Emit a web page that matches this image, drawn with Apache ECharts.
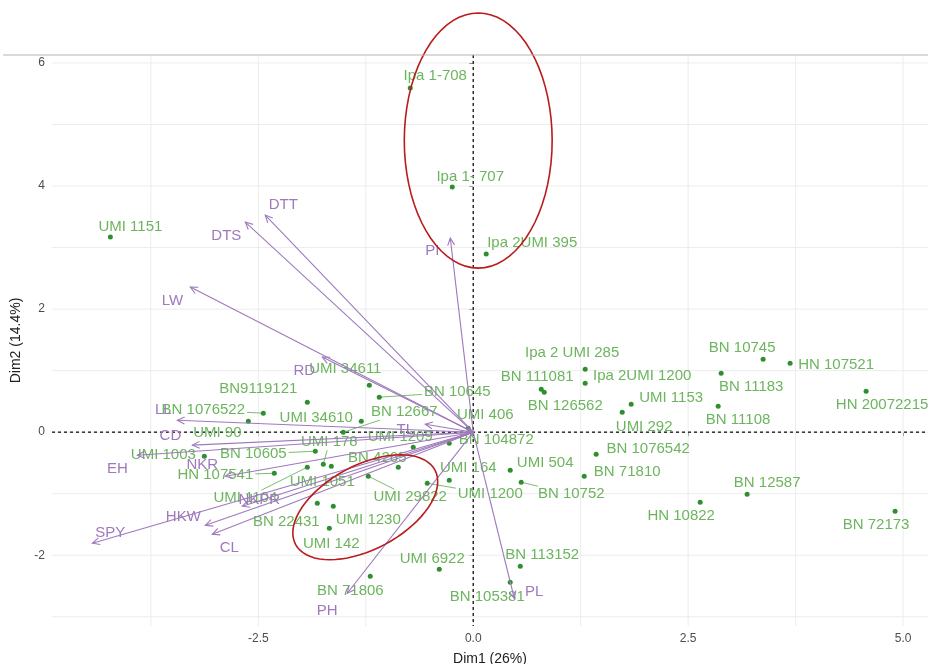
<!DOCTYPE html>
<html>
<head>
<meta charset="utf-8">
<script src="https://cdn.jsdelivr.net/npm/echarts@6/dist/echarts.min.js"></script>
<style>html,body{margin:0;padding:0;background:#fff;}</style>
</head>
<body>
<div id="main" style="width:928px;height:664px;"></div>
<script type="text/javascript">
// genotypes: point position and (repelled) label position, in Dim1/Dim2 units
var indNames = ['Ipa 1-708', 'Ipa 1- 707', 'Ipa 2UMI 395', 'UMI 1151', 'Ipa 2 UMI 285', 'Ipa 2UMI 1200',
    'BN 111081', 'BN 126562', 'UMI 1153', 'UMI 292', 'BN 10745', 'HN 107521', 'BN 11183', 'BN 11108',
    'HN 20072215', 'BN 1076542', 'BN 71810', 'UMI 504', 'BN 10752', 'BN 12587', 'HN 10822', 'BN 72173',
    'BN 113152', 'BN 105381', 'UMI 6922', 'BN 71806', 'UMI 142', 'UMI 1230', 'BN 22431', 'UMI 29822',
    'UMI 1200', 'UMI 164', 'BN 4265', 'UMI 1051', 'UMI 178', 'UMI 1104', 'HN 107541', 'UMI 1003',
    'BN 10605', 'UMI 90', 'BN 1076522', 'BN9119121', 'UMI 34611', 'BN 10645', 'UMI 34610', 'BN 12667',
    'UMI 406', 'UMI 1209', 'BN 104872'];
var indX = [-0.733, -0.244, 0.151, -4.221, 1.302, 1.302,
    0.791, 0.826, 1.837, 1.733, 3.372, 3.686, 2.884, 2.849,
    4.570, 1.430, 1.291, 0.430, 0.558, 3.186, 2.640, 4.907,
    0.547, 0.430, -0.395, -1.198, -1.674, -1.628, -1.814, -1.221,
    -0.535, -0.279, -0.872, -1.651, -1.744, -1.930, -2.314, -3.128,
    -1.837, -2.616, -2.442, -1.930, -1.209, -1.093, -1.302, -1.512,
    -0.058, -0.698, -0.279];
var indY = [5.593, 3.984, 2.894, 3.171, 1.024, 0.797,
    0.699, 0.650, 0.455, 0.325, 1.187, 1.122, 0.959, 0.423,
    0.667, -0.358, -0.715, -0.618, -0.813, -1.008, -1.138, -1.285,
    -2.179, -2.439, -2.228, -2.341, -1.561, -1.203, -1.154, -0.715,
    -0.829, -0.780, -0.569, -0.553, -0.520, -0.569, -0.667, -0.390,
    -0.309, 0.179, 0.309, 0.488, 0.764, 0.569, 0.179, 0.000,
    0.065, -0.244, -0.179];
var indLabX = [-0.442, -0.035, 0.686, -3.988, 1.151, 1.965,
    0.744, 1.070, 2.302, 1.988, 3.128, 4.221, 3.233, 3.081,
    4.756, 2.035, 1.791, 0.837, 1.140, 3.419, 2.419, 4.686,
    0.802, 0.163, -0.477, -1.430, -1.651, -1.221, -2.174, -0.733,
    0.198, -0.058, -1.116, -1.756, -1.674, -2.651, -3.000, -3.605,
    -2.558, -2.977, -3.140, -2.500, -1.488, -0.186, -1.826, -0.802,
    0.140, -0.849, 0.267];
var indLabY = [5.789, 4.146, 3.073, 3.333, 1.285, 0.911,
    0.894, 0.423, 0.553, 0.081, 1.366, 1.089, 0.732, 0.195,
    0.439, -0.276, -0.650, -0.504, -1.008, -0.829, -1.366, -1.512,
    -2.000, -2.683, -2.065, -2.585, -1.821, -1.431, -1.463, -1.057,
    -1.008, -0.585, -0.423, -0.813, -0.163, -1.073, -0.699, -0.374,
    -0.358, -0.016, 0.358, 0.699, 1.024, 0.650, 0.228, 0.325,
    0.276, -0.081, -0.130];

// variables: arrow tip and label position
var varNames = ['DTT', 'DTS', 'LW', 'RD', 'PI', 'LL', 'CD', 'EH', 'NKR', 'NKPR', 'HKW', 'CL', 'SPY', 'TL', 'PH', 'PL'];
var varX = [-2.419, -2.651, -3.291, -1.756, -0.267, -3.442, -3.267, -3.907, -2.884, -2.686, -3.116, -3.035, -4.430, -0.558, -1.465, 0.477];
var varY = [3.528, 3.415, 2.358, 1.220, 3.154, 0.195, -0.211, -0.374, -0.715, -1.203, -1.512, -1.659, -1.805, 0.130, -2.618, -2.699];
var varLabX = [-2.209, -2.872, -3.500, -1.965, -0.477, -3.605, -3.523, -4.140, -3.151, -2.488, -3.372, -2.837, -4.221, -0.791, -1.698, 0.709];
var varLabY = [3.691, 3.187, 2.130, 0.992, 2.943, 0.358, -0.065, -0.602, -0.537, -1.106, -1.382, -1.886, -1.642, 0.033, -2.911, -2.602];

var xTicks = [-2.5, 0, 2.5, 5];
var yTicks = [-2, 0, 2, 4, 6];
var xGrid = [-3.75, -2.5, -1.25, 0, 1.25, 2.5, 3.75, 5];
var yGrid = [-3, -2, -1, 0, 1, 2, 3, 4, 5, 6];

// red hand-drawn rings: centre and two half-axis vectors
var ringCenter = [[0.058, 4.740], [-1.256, -1.220]];
var ringU = [[0.860, 0], [0.811, 0.603]];
var ringV = [[0, 2.073], [0.229, -0.603]];

var green = '#6cb55e', dotGreen = '#2f8f2f', purple = '#9f79bd';
var labelFont = '15px "Liberation Sans", Arial, sans-serif';
var measure = document.createElement('canvas').getContext('2d');
measure.font = labelFont;

var myChart = echarts.init(document.getElementById('main'));

function gridV(params, api) {
    var cs = params.coordSys;
    var x = api.coord([api.value(0), 0])[0];
    return {type: 'line', shape: {x1: x, y1: cs.y, x2: x, y2: cs.y + cs.height},
        style: {stroke: '#ececec', lineWidth: 1}};
}
function gridH(params, api) {
    var cs = params.coordSys;
    var y = api.coord([0, api.value(1)])[1];
    return {type: 'line', shape: {x1: cs.x, y1: y, x2: cs.x + cs.width, y2: y},
        style: {stroke: '#ececec', lineWidth: 1}};
}
function zeroLines(params, api) {
    var cs = params.coordSys;
    var o = api.coord([0, 0]);
    var st = {stroke: '#222', lineWidth: 1.4, lineDash: [3, 3]};
    return {type: 'group', children: [
        {type: 'line', shape: {x1: o[0], y1: cs.y, x2: o[0], y2: cs.y + cs.height}, style: st},
        {type: 'line', shape: {x1: cs.x, y1: o[1], x2: cs.x + cs.width, y2: o[1]}, style: st}
    ]};
}

function indLabel(params, api) {
    var i = params.dataIndex;
    var p = api.coord([indX[i], indY[i]]);
    var l = api.coord([indLabX[i], indLabY[i]]);
    var w = measure.measureText(indNames[i]).width / 2 + 2, h = 8;
    var kids = [];
    var dx = Math.max(Math.abs(p[0] - l[0]) - w, 0), dy = Math.max(Math.abs(p[1] - l[1]) - h, 0);
    if (Math.sqrt(dx * dx + dy * dy) > 12) {
        var vx = p[0] - l[0], vy = p[1] - l[1];
        var t = Math.min(w / Math.max(Math.abs(vx), 1e-6), h / Math.max(Math.abs(vy), 1e-6));
        kids.push({type: 'line', shape: {x1: l[0] + vx * t, y1: l[1] + vy * t, x2: p[0], y2: p[1]},
            style: {stroke: green, lineWidth: 0.9}});
    }
    kids.push({type: 'text', x: l[0], y: l[1],
        style: {text: indNames[i], font: labelFont, fill: green, align: 'center', verticalAlign: 'middle'}});
    return {type: 'group', children: kids};
}

function varArrow(params, api) {
    var i = params.dataIndex;
    var o = api.coord([0, 0]);
    var e = api.coord([varX[i], varY[i]]);
    var l = api.coord([varLabX[i], varLabY[i]]);
    var ang = Math.atan2(e[1] - o[1], e[0] - o[0]);
    var hl = 8, ha = Math.PI / 7;
    var a1 = [e[0] - hl * Math.cos(ang - ha), e[1] - hl * Math.sin(ang - ha)];
    var a2 = [e[0] - hl * Math.cos(ang + ha), e[1] - hl * Math.sin(ang + ha)];
    return {type: 'group', children: [
        {type: 'line', shape: {x1: o[0], y1: o[1], x2: e[0], y2: e[1]}, style: {stroke: purple, lineWidth: 1.1}},
        {type: 'polyline', shape: {points: [a1, e, a2]}, style: {stroke: purple, lineWidth: 1.1, fill: null}},
        {type: 'text', x: l[0], y: l[1],
            style: {text: varNames[i], font: labelFont, fill: purple, align: 'center', verticalAlign: 'middle'}}
    ]};
}

function ring(params, api) {
    var i = params.dataIndex;
    var c = ringCenter[i], u = ringU[i], v = ringV[i];
    var pts = [];
    for (var k = 0; k <= 72; k++) {
        var a = k / 72 * Math.PI * 2;
        pts.push(api.coord([c[0] + Math.cos(a) * u[0] + Math.sin(a) * v[0],
                            c[1] + Math.cos(a) * u[1] + Math.sin(a) * v[1]]));
    }
    return {type: 'polyline', shape: {points: pts}, style: {stroke: '#b81c1c', lineWidth: 1.6, fill: null}};
}

var option = {
    animation: false,
    grid: {left: 52, right: 0, top: 55, bottom: 38, containLabel: false, outerBoundsMode: 'none'},
    graphic: [{type: 'line', shape: {x1: 3, y1: 55, x2: 928, y2: 55}, style: {stroke: '#b5b5b5', lineWidth: 1}, z: 10}],
    xAxis: {
        type: 'value', min: -4.9, max: 5.29,
        splitLine: {show: false}, axisLine: {show: false},
        axisTick: {show: true, customValues: xTicks, length: 4, lineStyle: {color: '#444'}},
        axisLabel: {customValues: xTicks, formatter: function (v) { return v.toFixed(1); },
            color: '#4d4d4d', fontSize: 12, margin: 7, fontFamily: 'Liberation Sans'},
        name: 'Dim1 (26%)', nameLocation: 'middle', nameGap: 26,
        nameTextStyle: {color: '#222', fontSize: 14, fontFamily: 'Liberation Sans'}
    },
    yAxis: {
        type: 'value', min: -3.15, max: 6.13,
        splitLine: {show: false}, axisLine: {show: false},
        axisTick: {show: true, customValues: yTicks, length: 4, lineStyle: {color: '#444'}},
        axisLabel: {customValues: yTicks, formatter: function (v) { return String(v); },
            color: '#4d4d4d', fontSize: 12, margin: 7, fontFamily: 'Liberation Sans'},
        name: 'Dim2 (14.4%)', nameLocation: 'middle', nameGap: 28, nameRotate: 90,
        nameTextStyle: {color: '#222', fontSize: 14, fontFamily: 'Liberation Sans'}
    },
    series: [
        {type: 'custom', z: 1, silent: true, renderItem: gridV, data: xGrid.map(function (v) { return [v, 0]; })},
        {type: 'custom', z: 1, silent: true, renderItem: gridH, data: yGrid.map(function (v) { return [0, v]; })},
        {type: 'custom', z: 2, silent: true, renderItem: zeroLines, data: [[0, 0]]},
        {type: 'custom', z: 3, renderItem: indLabel,
            data: indNames.map(function (n, i) { return [indLabX[i], indLabY[i]]; })},
        {type: 'scatter', z: 4, symbolSize: 5, itemStyle: {color: dotGreen, opacity: 1},
            data: indNames.map(function (n, i) { return [indX[i], indY[i]]; })},
        {type: 'custom', z: 5, renderItem: varArrow,
            data: varNames.map(function (n, i) { return [varX[i], varY[i]]; })},
        {type: 'custom', z: 6, clip: false, renderItem: ring, data: ringCenter}
    ]
};
myChart.setOption(option);
</script>
</body>
</html>
